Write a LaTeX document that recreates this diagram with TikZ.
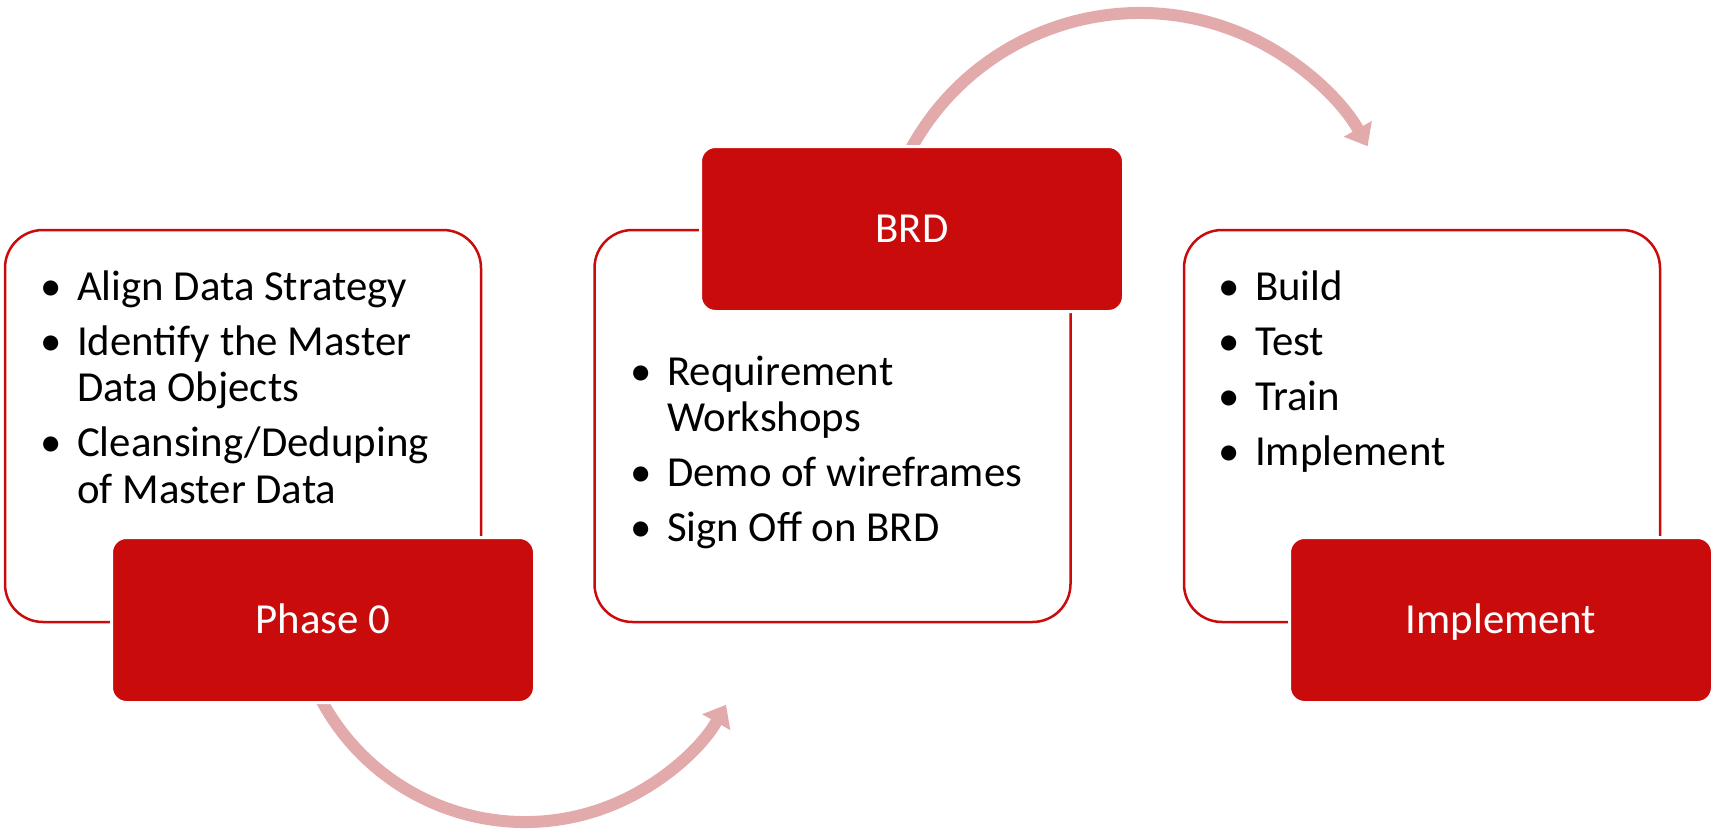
\documentclass[tikz,border=0pt]{standalone}
\usepackage{fontspec}
\setmainfont{Carlito}
\usetikzlibrary{arrows.meta}
\definecolor{boxred}{RGB}{201,11,11}
\definecolor{arrowpink}{RGB}{226,170,171}
\newcommand\bitem{\makebox[40pt][l]{\makebox[28pt][c]{•}}}
\newcommand\bcont{\hspace*{40pt}}
\begin{document}
\begin{tikzpicture}[x=1pt,y=-1pt,
  outline/.style={draw=boxred, line width=2.5pt, rounded corners=38pt,
    minimum width=476pt, minimum height=392pt, inner sep=0pt, fill=white},
  redbox/.style={fill=boxred, draw=white, line width=3pt, rounded corners=15pt,
    minimum width=423pt, minimum height=165pt, inner sep=0pt, text=white,
    font=\fontsize{42.8}{46.5}\selectfont, text height=27.5pt, text depth=0pt},
  txt/.style={anchor=base west, inner sep=0pt, font=\fontsize{42.8}{46.8}\selectfont},
  arr/.style={draw=arrowpink, line width=12pt, -{Triangle[length=20pt,width=31pt]}}]
\useasboundingbox (0,0) rectangle (1717,836);
% outline boxes
\node[outline] (box1) at (243,426) {};
\node[outline] (box2) at (832.5,426) {};
\node[outline] (box3) at (1422,426) {};
% arrow centres
\coordinate (c1) at (525,591);
\coordinate (c2) at (1140,274);
% arrows
\draw[arr] ([shift={(205:231pt)}]c1) arc[start angle=205, end angle=330.5, radius=231pt];
\draw[arr] ([shift={(153:261pt)}]c2) arc[start angle=153, end angle=29.3, radius=261pt];
% red boxes
\node[redbox] (phase0) at (323,620) {Phase 0};
\node[redbox] (brd) at (912,229) {BRD};
\node[redbox] (impl) at (1501,620) {Implement};
% texts
\node[txt] (t1) at (37,300) {\begin{tabular}[t]{@{}l@{}}\bitem Align Data Strategy\\[8.2pt]
  \bitem Identify the Master\\ \bcont Data Objects\\[8.2pt]
  \bitem Cleansing/Deduping\\ \bcont of Master Data\end{tabular}};
\node[txt] (t2) at (627,385) {\begin{tabular}[t]{@{}l@{}}\bitem Requirement\\ \bcont Workshops\\[8.2pt]
  \bitem Demo of wireframes\\[8.2pt]
  \bitem Sign Off on BRD\end{tabular}};
\node[txt] (t3) at (1215,300) {\begin{tabular}[t]{@{}l@{}}\bitem Build\\[8.2pt]
  \bitem Test\\[8.2pt]
  \bitem Train\\[8.2pt]
  \bitem Implement\end{tabular}};
\end{tikzpicture}
\end{document}
